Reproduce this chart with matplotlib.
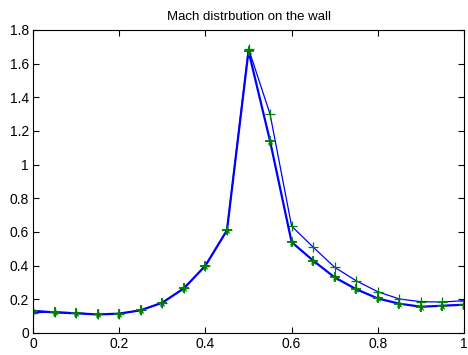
import numpy as np
from matplotlib import pyplot as plt

plt.rcParams['font.family'] = ['Liberation Sans', 'DejaVu Sans']

# wall position and Mach number for the two runs
x_wall = [0.0, 0.05, 0.1, 0.15, 0.2, 0.25, 0.3, 0.35, 0.4, 0.45, 0.5,
          0.55, 0.6, 0.65, 0.7, 0.75, 0.8, 0.85, 0.9, 0.95, 1.0]
mach_coarse = [0.12, 0.125, 0.12, 0.11, 0.115, 0.135, 0.18, 0.265, 0.40, 0.61, 1.69,
               1.30, 0.635, 0.51, 0.39, 0.31, 0.245, 0.202, 0.186, 0.184, 0.192]
mach_fine = [0.132, 0.122, 0.117, 0.11, 0.115, 0.135, 0.18, 0.265, 0.40, 0.61, 1.675,
             1.14, 0.54, 0.43, 0.33, 0.26, 0.205, 0.174, 0.156, 0.162, 0.168]

fig = plt.figure(figsize=(4.68, 3.55), dpi=100)
ax = fig.add_axes([0.0705, 0.062, 0.921, 0.8535])

ax.plot(x_wall, mach_coarse, color='blue', lw=0.9)
ax.plot(x_wall, mach_coarse, ls='none', marker='+', ms=7, mew=0.9, color='green')
ax.plot(x_wall, mach_fine, color='blue', lw=1.6)
ax.plot(x_wall, mach_fine, ls='none', marker='+', ms=7, mew=1.3, color='green')
ax.plot(x_wall, mach_fine, ls='none', marker='*', ms=5, mew=0.5, color='green')

ax.set_xlim(0, 1)
ax.set_ylim(0, 1.8)
ax.set_xticks(np.arange(0, 1.01, 0.2))
ax.set_xticklabels(['0', '0.2', '0.4', '0.6', '0.8', '1'])
ax.set_yticks(np.arange(0, 1.81, 0.2))
ax.set_yticklabels(['0', '0.2', '0.4', '0.6', '0.8', '1', '1.2', '1.4', '1.6', '1.8'])
ax.tick_params(direction='in', top=True, right=True, labelsize=10, length=4, pad=3)
ax.set_title('Mach distrbution on the wall', fontsize=9.5, pad=7)

fig.savefig('out.png', dpi=100)
